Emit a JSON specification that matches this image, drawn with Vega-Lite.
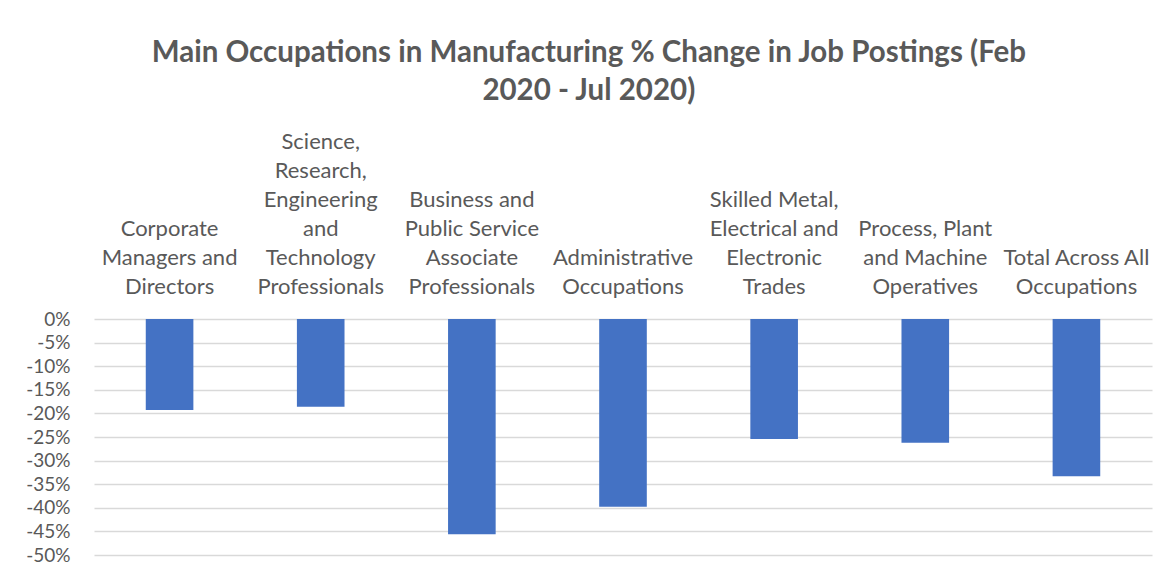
{
  "$schema": "https://vega.github.io/schema/vega-lite/v6.json",
  "autosize": "none",
  "width": 1058,
  "height": 236,
  "padding": {"left": 94, "top": 319, "right": 21, "bottom": 21},
  "background": "white",
  "title": {
    "text": ["Main Occupations in Manufacturing % Change in Job Postings (Feb", "2020 - Jul 2020)"],
    "anchor": "middle",
    "frame": "bounds",
    "font": "Lato",
    "fontSize": 29.5,
    "fontWeight": "bold",
    "color": "#595959",
    "lineHeight": 38,
    "offset": 24
  },
  "data": {
    "values": [
      {"occupation": "Corporate\nManagers and\nDirectors", "change": -0.193},
      {"occupation": "Science,\nResearch,\nEngineering\nand\nTechnology\nProfessionals", "change": -0.186},
      {"occupation": "Business and\nPublic Service\nAssociate\nProfessionals", "change": -0.456},
      {"occupation": "Administrative\nOccupations", "change": -0.398},
      {"occupation": "Skilled Metal,\nElectrical and\nElectronic\nTrades", "change": -0.254},
      {"occupation": "Process, Plant\nand Machine\nOperatives", "change": -0.262},
      {"occupation": "Total Across All\nOccupations", "change": -0.333}
    ]
  },
  "mark": {"type": "bar", "color": "#4472C4"},
  "encoding": {
    "x": {
      "field": "occupation",
      "type": "nominal",
      "sort": null,
      "scale": {"paddingInner": 0.685, "paddingOuter": 0.3425},
      "axis": {
        "orient": "top",
        "title": null,
        "labelAngle": 0,
        "labelExpr": "split(slice('\\u200b\\n\\u200b\\n\\u200b\\n\\u200b\\n\\u200b\\n', 0, 2 * (6 - length(split(datum.value, '\\n')))) + datum.value, '\\n')",
        "labelFont": "Lato",
        "labelFontSize": 22,
        "labelColor": "#595959",
        "labelLineHeight": 29,
        "labelBaseline": "alphabetic",
        "labelPadding": 171,
        "labelLimit": 0,
        "ticks": false,
        "domain": false
      }
    },
    "y": {
      "field": "change",
      "type": "quantitative",
      "scale": {"domain": [-0.5, 0], "nice": false},
      "axis": {
        "title": null,
        "values": [0, -0.05, -0.1, -0.15, -0.2, -0.25, -0.3, -0.35, -0.4, -0.45, -0.5],
        "labelExpr": "replace(format(datum.value, '.0%'), '\u2212', '-')",
        "labelFont": "Lato",
        "labelFontSize": 19,
        "labelColor": "#595959",
        "labelPadding": 24,
        "ticks": false,
        "domain": false,
        "grid": true,
        "gridColor": "#d9d9d9",
        "gridWidth": 1.5
      }
    }
  },
  "config": {
    "view": {"stroke": null}
  }
}
